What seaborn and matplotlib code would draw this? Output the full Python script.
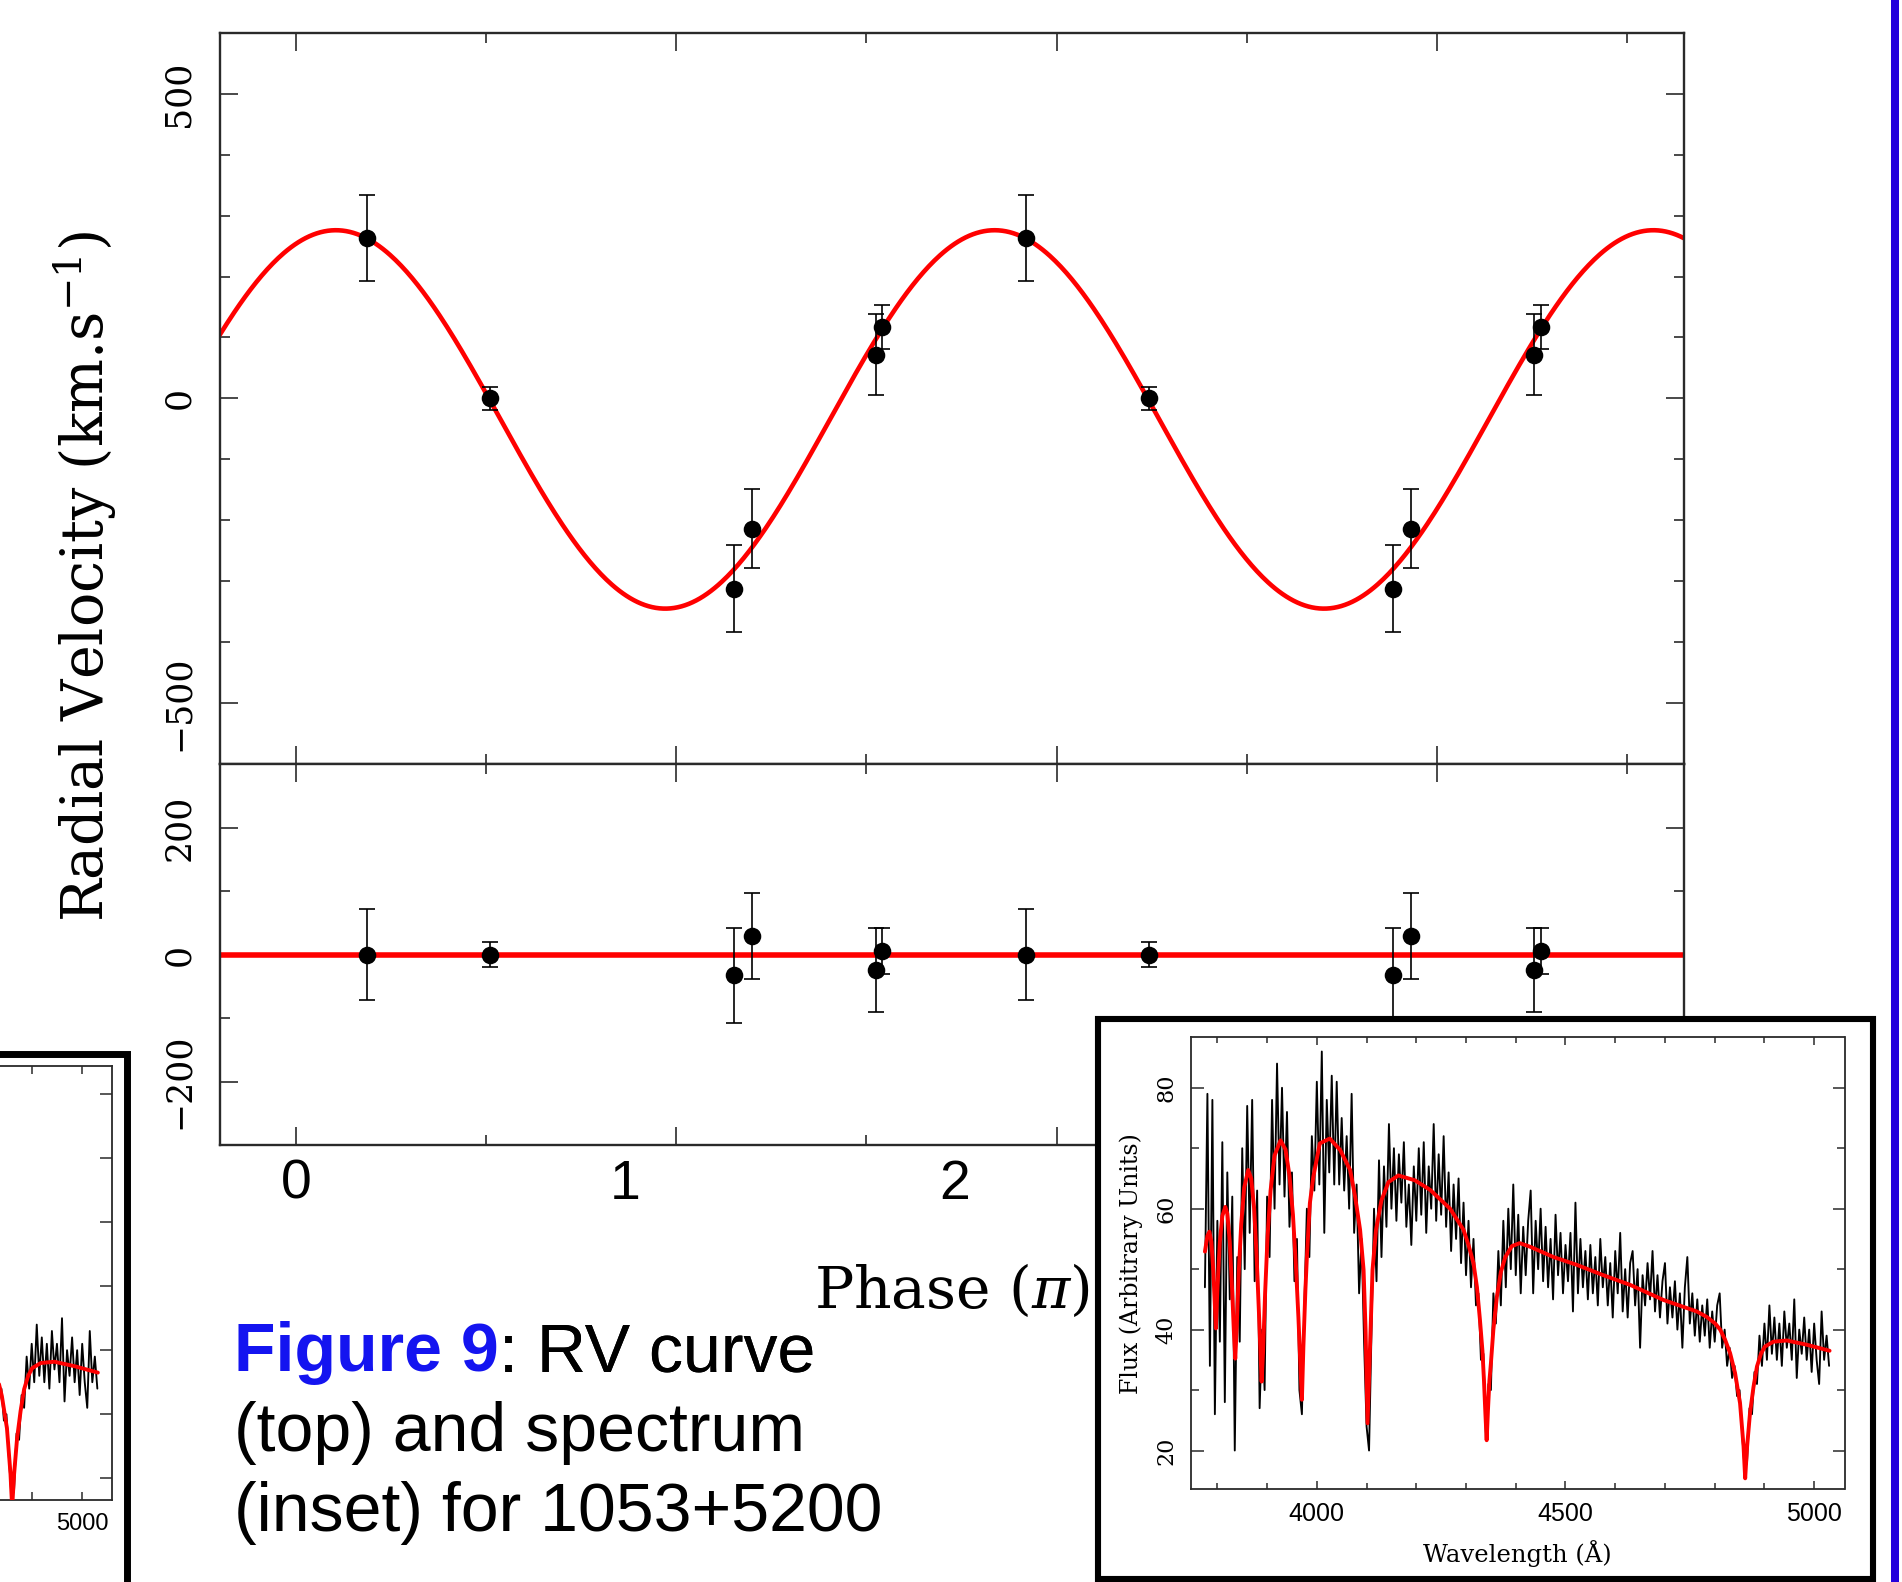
import numpy as np
import pandas as pd
import matplotlib
matplotlib.use("Agg")
import matplotlib.pyplot as plt
from matplotlib.patches import Rectangle
from matplotlib.ticker import MultipleLocator
import seaborn as sns

# ---------------- data ----------------
# RV curve (phase in units of pi), two cycles shown
phase = [0.217, 0.589, 1.331, 1.385, 1.760, 1.779, 2.217, 2.589, 3.331, 3.385, 3.760, 3.779]
rv = [263, 0, -312, -214, 72, 117, 263, 0, -312, -214, 72, 117]
rv_err = [71, 19, 72, 65, 67, 36, 71, 19, 72, 65, 67, 36]
resid = [0, 0, -33, 29, -25, 5, 0, 0, -33, 29, -25, 5]
resid_err = [71, 20, 75, 68, 66, 36, 71, 20, 75, 68, 66, 36]

# fitted sinusoid parameters
fit_K = 310.5
fit_gamma = -34.5
fit_phase_max = 0.121

phase_labels = ["0", "1", "2", "3", "4"]
phase_label_pos = [0, 1, 2, 3, 4]
phase_major_marks = [0.0, 1.155, 2.309, 3.464]
phase_minor_marks = [0.577, 1.732, 2.887, 4.041]

# spectrum (observed), sampled every 5 A from 3775 A
spec_start = 3775
spec_step = 5
spec_flux = [
    47, 79, 34, 78, 26, 58, 38, 71, 28, 66,
    45, 62, 20, 52, 38, 70, 50, 77, 56, 78,
    48, 63, 27, 40, 30, 62, 52, 78, 60, 84,
    64, 80, 62, 76, 57, 66, 48, 55, 30, 26,
    44, 60, 52, 72, 63, 81, 64, 86, 56, 78,
    66, 82, 64, 81, 64, 75, 63, 72, 60, 79,
    56, 64, 46, 55, 38, 24, 20, 40, 60, 48,
    68, 52, 67, 57, 74, 60, 70, 58, 69, 61,
    71, 57, 64, 54, 67, 58, 70, 59, 71, 56,
    67, 60, 74, 58, 69, 59, 72, 57, 66, 53,
    64, 55, 65, 51, 61, 49, 58, 47, 55, 44,
    46, 35, 36, 22, 31, 30, 46, 41, 53, 44,
    58, 47, 60, 50, 64, 49, 59, 46, 57, 49,
    58, 63, 46, 58, 50, 60, 48, 57, 47, 55,
    45, 59, 49, 56, 46, 54, 48, 56, 43, 61,
    46, 55, 47, 53, 45, 54, 46, 52, 44, 55,
    47, 52, 44, 51, 42, 53, 46, 56, 43, 50,
    42, 51, 53, 44, 50, 37, 49, 44, 51, 45,
    53, 43, 49, 42, 48, 51, 41, 47, 42, 48,
    40, 46, 37, 47, 52, 41, 46, 39, 45, 38,
    44, 39, 45, 37, 43, 38, 44, 46, 37, 40,
    34, 37, 32, 34, 29, 30, 23, 17, 18, 27,
    26, 33, 31, 39, 34, 41, 35, 44, 36, 42,
    35, 41, 34, 43, 37, 41, 35, 45, 32, 40,
    36, 42, 35, 40, 33, 41, 35, 31, 43, 35,
    39, 34,
]
# model spectrum (red)
model_wl = [3775, 3780, 3784, 3788, 3792, 3795, 3797, 3800, 3805, 3810, 3816, 3820, 3825,
            3830, 3833, 3836, 3839, 3843, 3848, 3854, 3862, 3868, 3874, 3879, 3884, 3887,
            3889, 3892, 3896, 3901, 3907, 3915, 3927, 3937, 3945, 3952, 3958, 3963, 3967,
            3970, 3973, 3977, 3980, 3986, 3993, 4006, 4026, 4047, 4067, 4077, 4087, 4094,
            4098, 4102, 4107, 4112, 4119, 4130, 4144, 4164, 4197, 4228, 4268, 4295, 4305,
            4315, 4322, 4328, 4333, 4336, 4339, 4341.5, 4344, 4347, 4350, 4355, 4362, 4370,
            4379, 4392, 4408, 4429, 4476, 4523, 4576, 4630, 4697, 4764, 4784, 4801, 4811,
            4821, 4831, 4841, 4851, 4858, 4861.3, 4865, 4871, 4878, 4885, 4893, 4901, 4918,
            4945, 4985, 5031]
model_flux = [52.9, 55.5, 56.2, 54.5, 49.5, 44.0, 40.2, 46.5, 54.5, 58.8, 60.3, 59.2, 54.5,
              46.0, 40.0, 35.2, 40.5, 49.5, 57.5, 63.5, 66.4, 65.0, 60.0, 52.0, 42.0, 35.5,
              31.4, 36.5, 46.0, 55.5, 63.0, 68.8, 71.3, 69.8, 65.5, 59.0, 50.5, 42.0, 34.0,
              28.4, 37.2, 46.5, 52.0, 60.9, 65.3, 70.8, 71.6, 69.7, 66.4, 62.0, 56.5, 49.9,
              40.0, 24.5, 37.2, 49.9, 56.5, 61.4, 64.4, 65.5, 64.7, 63.1, 60.0, 56.5, 54.0,
              51.0, 47.0, 41.6, 36.5, 31.7, 26.0, 21.7, 26.5, 31.5, 34.4, 40.0, 45.4, 49.5,
              52.0, 53.8, 54.3, 53.7, 52.0, 50.7, 49.0, 47.4, 44.9, 43.0, 42.1, 41.0, 40.0,
              38.3, 36.1, 32.8, 27.8, 20.7, 15.4, 20.5, 26.2, 30.5, 33.9, 36.0, 37.2, 38.0,
              38.2, 37.5, 36.5]

caption_lines = ["(top) and spectrum", "(inset) for 1053+5200"]

# ---------------- figure ----------------
W, H, DPI = 1902, 1582, 100
sns.set_theme(style="white")
plt.rcParams['font.family'] = ['DejaVu Serif', 'DejaVu Sans']
plt.rcParams['mathtext.fontset'] = 'dejavuserif'
plt.rcParams['axes.unicode_minus'] = True

fig = plt.figure(figsize=(W / DPI, H / DPI), dpi=DPI)
fig.patch.set_facecolor('white')


def fx(px):
    return px / W


def fy(py):
    return 1 - py / H


def add_ax(l, t, r, b):
    return fig.add_axes([fx(l), fy(b), (r - l) / W, (b - t) / H])


SPINE = '#2a2a2a'


def style_spines(ax, lw):
    for s in ax.spines.values():
        s.set_visible(True)
        s.set_color(SPINE)
        s.set_linewidth(lw)
    ax.set_facecolor('white')


ax1 = add_ax(219.6, 32.8, 1684, 764)
ax2 = add_ax(219.6, 764, 1684, 1145)

df_pts = pd.DataFrame({'phase': phase, 'rv': rv, 'err': rv_err,
                       'resid': resid, 'rerr': resid_err})
curve_x = np.linspace(-0.232, 4.214, 800)
df_fit = pd.DataFrame({'phase': curve_x,
                       'rv': fit_gamma + fit_K * np.cos(np.pi * (curve_x - fit_phase_max))})

sns.lineplot(data=df_fit, x='phase', y='rv', ax=ax1, color='#ff0000', lw=3.3,
             estimator=None, sort=False, legend=False, zorder=2)
ax1.errorbar(df_pts['phase'], df_pts['rv'], yerr=df_pts['err'], fmt='none',
             ecolor='black', elinewidth=1.2, capsize=6, capthick=1.2, zorder=3)
sns.scatterplot(data=df_pts, x='phase', y='rv', ax=ax1, color='black', s=160,
                linewidth=0, legend=False, zorder=4)

ax2.axhline(0, color='#ff0000', lw=4.0, zorder=2)
ax2.errorbar(df_pts['phase'], df_pts['resid'], yerr=df_pts['rerr'], fmt='none',
             ecolor='black', elinewidth=1.2, capsize=6, capthick=1.2, zorder=3)
sns.scatterplot(data=df_pts, x='phase', y='resid', ax=ax2, color='black', s=160,
                linewidth=0, legend=False, zorder=4)

for ax in (ax1, ax2):
    style_spines(ax, 1.7)
    ax.set_xlim(-0.232, 4.214)
    ax.set_xticks(phase_major_marks)
    ax.set_xticks(phase_minor_marks, minor=True)
    ax.tick_params(axis='both', which='both', direction='in', top=True, bottom=True,
                   left=True, right=True, color=SPINE, labelbottom=False)
    ax.tick_params(which='major', length=13, width=1.2)
    ax.tick_params(which='minor', length=7, width=1.2)
    ax.yaxis.set_minor_locator(MultipleLocator(100))
    ax.set_xlabel('')
    ax.set_ylabel('')
    ax.grid(False)

ax1.set_ylim(-600, 600)
ax1.set_yticks([-500, 0, 500], labels=['\u2212500', '0', '500'])
ax2.set_ylim(-300, 300)
ax2.set_yticks([-200, 0, 200], labels=['\u2212200', '0', '200'])
for ax in (ax1, ax2):
    ax.tick_params(axis='y', labelsize=25, pad=17, labelcolor='black')
    for lbl in ax.get_yticklabels():
        lbl.set_rotation(90)
        lbl.set_verticalalignment('center')

sec = ax2.secondary_xaxis('bottom')
sec.set_ticks(phase_label_pos, labels=phase_labels, fontfamily='Liberation Sans', fontsize=40)
sec.tick_params(length=0, pad=10, labelcolor='black')
sec.spines['bottom'].set_visible(False)

fig.text(fx(85), fy(576), 'Radial Velocity (km.s$^{-1}$)', rotation=90,
         ha='center', va='center', fontsize=41, color='black')
fig.text(fx(952), fy(1291), 'Phase ($\\pi$)', ha='center', va='center',
         fontsize=42, color='black')

# ---------------- caption ----------------
t1 = fig.text(fx(234), fy(1371), 'Figure 9', fontfamily='Liberation Sans',
              fontweight='bold', color='#1414f0', fontsize=49, va='baseline', ha='left')
ann = plt.annotate(': RV curve', xy=(1, 0), xycoords=t1, xytext=(0, 0),
                   textcoords='offset points', va='bottom', ha='left',
                   fontfamily='Liberation Sans', fontsize=49, color='black',
                   annotation_clip=False)
ann.set_figure(fig)
fig.add_artist(ann)
for i, line in enumerate(caption_lines):
    fig.text(fx(234), fy(1451 + 80 * i), line, fontfamily='Liberation Sans',
             fontsize=49, color='black', va='baseline', ha='left')

# ---------------- inset (right) ----------------
fig.add_artist(Rectangle((fx(1098), fy(1579)), (1873 - 1098) / W, (1579 - 1018.5) / H,
                         transform=fig.transFigure, facecolor='white',
                         edgecolor='black', lw=4.4, zorder=5))
spec_wl = spec_start + spec_step * np.arange(len(spec_flux))
df_spec = pd.DataFrame({'wl': spec_wl, 'flux': spec_flux})
df_model = pd.DataFrame({'wl': model_wl, 'flux': model_flux})


def draw_spectrum(ax, red_lw):
    sns.lineplot(data=df_spec, x='wl', y='flux', ax=ax, color='black', lw=1.35,
                 estimator=None, sort=False, legend=False, zorder=2)
    sns.lineplot(data=df_model, x='wl', y='flux', ax=ax, color='#ff0000', lw=red_lw,
                 estimator=None, sort=False, legend=False, zorder=3)
    ax.set_xlabel('')
    ax.set_ylabel('')
    ax.grid(False)


axi = add_ax(1191, 1037, 1844.5, 1489.2)
axi.set_zorder(6)
draw_spectrum(axi, 2.8)
style_spines(axi, 1.3)
axi.set_xlim(3747, 5061)
axi.set_ylim(13.6, 88.4)
axi.set_xticks([4000, 4500, 5000], labels=['4000', '4500', '5000'],
               fontfamily='Liberation Sans', fontsize=18)
axi.xaxis.set_minor_locator(MultipleLocator(100))
axi.set_yticks([20, 40, 60, 80], labels=['20', '40', '60', '80'], fontsize=16)
axi.yaxis.set_minor_locator(MultipleLocator(10))
axi.tick_params(axis='both', which='both', direction='in', top=True, bottom=True,
                left=True, right=True, color=SPINE, labelcolor='black')
axi.tick_params(axis='x', which='major', length=6, width=1.1, pad=9)
axi.tick_params(axis='x', which='minor', length=4.5, width=1.1)
axi.tick_params(axis='y', which='major', length=9, width=1.1, pad=10)
axi.tick_params(axis='y', which='minor', length=6, width=1.1)
for lbl in axi.get_yticklabels():
    lbl.set_rotation(90)
    lbl.set_verticalalignment('center')

fig.text(fx(1131.4), fy(1263.5), 'Flux (Arbitrary Units)', rotation=90, ha='center',
         va='center', fontsize=17, color='black', zorder=7)
fig.text(fx(1517), fy(1554), 'Wavelength (\u00c5)', ha='center', va='center',
         fontsize=17.5, color='black', zorder=7)

# ---------------- neighbouring inset fragment (left edge) ----------------
fig.add_artist(Rectangle((fx(-300), fy(1800)), (127 + 300) / W, (1800 - 1054) / H,
                         transform=fig.transFigure, facecolor='white',
                         edgecolor='black', lw=5.0, zorder=5))
axf = add_ax(-550.6, 1066, 112, 1500)
axf.set_zorder(6)
draw_spectrum(axf, 2.8)
style_spines(axf, 1.3)
axf.set_xlim(3747, 5059)
axf.set_ylim(16.6, 84.4)
axf.set_xticks([5000], labels=['5000'], fontfamily='Liberation Sans', fontsize=17)
axf.xaxis.set_minor_locator(MultipleLocator(100))
axf.set_yticks([20, 30, 40, 50, 60, 70, 80])
axf.tick_params(axis='y', labelleft=False)
axf.tick_params(axis='both', which='both', direction='in', top=True, bottom=True,
                left=True, right=True, color=SPINE, labelcolor='black')
axf.tick_params(axis='x', which='both', length=6, width=1.1, pad=9)
axf.tick_params(axis='y', which='major', length=9, width=1.1)

# ---------------- blue page rule on the right ----------------
fig.add_artist(Rectangle((fx(1891), 0), 8 / W, 1, transform=fig.transFigure,
                         facecolor='#2400dc', edgecolor='none', zorder=8))

fig.savefig('out.png', dpi=DPI, facecolor='white')
